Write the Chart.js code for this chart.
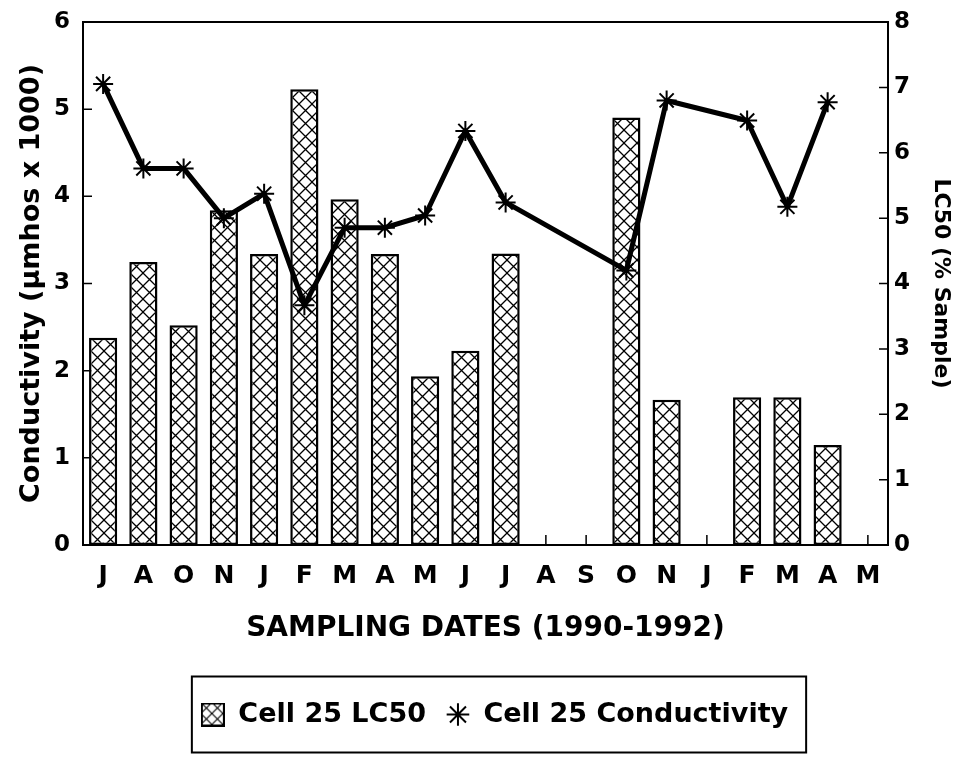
<!DOCTYPE html>
<html>
<head>
<meta charset="utf-8">
<script src="https://cdn.jsdelivr.net/npm/chart.js@4.4.0/dist/chart.umd.min.js"></script>
<style>
  body { margin: 0; background: #fff; }
</style>
</head>
<body>
<canvas id="grafico" width="957" height="759"></canvas>
<script>
const meses = ['J', 'A', 'O', 'N', 'J', 'F', 'M', 'A', 'M', 'J', 'J', 'A', 'S', 'O', 'N', 'J', 'F', 'M', 'A', 'M'];
const lc50 = [3.17, 4.33, 3.36, 5.12, 4.45, 6.97, 5.29, 4.45, 2.58, 2.97, 4.46, null, null, 6.54, 2.22, null, 2.26, 2.26, 1.53, null];
const condutividade = [5.29, 4.32, 4.32, 3.75, 4.03, 2.75, 3.64, 3.64, 3.78, 4.75, 3.93, null, null, 3.15, 5.1, null, 4.87, 3.88, 5.08, null];

const fonte = '"DejaVu Sans", "Liberation Sans", sans-serif';
Chart.defaults.font.family = fonte;
Chart.defaults.font.weight = 'bold';
Chart.defaults.color = '#000';

function criaHachura(tam, espessura) {
    const tile = document.createElement('canvas');
    tile.width = tam;
    tile.height = tam;
    const c = tile.getContext('2d');
    c.fillStyle = '#fff';
    c.fillRect(0, 0, tam, tam);
    c.strokeStyle = '#000';
    c.lineWidth = espessura;
    c.beginPath();
    c.moveTo(-1, -1); c.lineTo(tam + 1, tam + 1);
    c.moveTo(tam + 1, -1); c.lineTo(-1, tam + 1);
    c.stroke();
    return tile;
}

const padrao = document.createElement('canvas').getContext('2d').createPattern(criaHachura(13, 1.3), 'repeat');

function iconeBarra() {
    const c = document.createElement('canvas');
    c.width = 24;
    c.height = 24;
    const ctx = c.getContext('2d');
    ctx.fillStyle = ctx.createPattern(criaHachura(11, 1.1), 'repeat');
    ctx.fillRect(1, 1, 22, 22);
    ctx.strokeStyle = '#000';
    ctx.lineWidth = 2;
    ctx.strokeRect(1, 1, 22, 22);
    return c;
}
const icone = iconeBarra();

// moldura do grafico, marcas internas dos eixos e caixa da legenda
const moldura = {
    id: 'moldura',
    afterLayout(chart) {
        chart.legend.left += 16;
        chart.legend.right += 16;
    },
    beforeDatasetsDraw(chart) {
        const {ctx, chartArea: a, scales} = chart;
        ctx.save();
        ctx.strokeStyle = '#000';
        ctx.lineWidth = 1.5;
        ctx.beginPath();
        scales.y.ticks.forEach(t => {
            const y = scales.y.getPixelForValue(t.value);
            ctx.moveTo(a.left, y);
            ctx.lineTo(a.left + 9, y);
        });
        scales.y1.ticks.forEach(t => {
            const y = scales.y1.getPixelForValue(t.value);
            ctx.moveTo(a.right, y);
            ctx.lineTo(a.right - 9, y);
        });
        meses.forEach((m, i) => {
            const x = scales.x.getPixelForValue(i);
            ctx.moveTo(x, a.bottom);
            ctx.lineTo(x, a.bottom - 10);
        });
        ctx.stroke();
        ctx.lineWidth = 2;
        ctx.strokeRect(a.left, a.top, a.right - a.left, a.bottom - a.top);
        ctx.restore();
    },
    afterDraw(chart) {
        const lg = chart.legend;
        const op = lg.options.labels;
        const tamFonte = op.font.size;
        const ctx = chart.ctx;
        ctx.save();
        ctx.font = 'bold ' + tamFonte + 'px ' + fonte;
        const larguras = lg.legendItems.map(it => op.boxWidth + tamFonte / 2 + ctx.measureText(it.text).width);
        const total = larguras.reduce((s, w) => s + w + op.padding, 0);
        const x0 = (lg.left + op.padding + lg.right - total) / 2;
        const x1 = x0 + total - op.padding;
        const yc = lg.top + op.padding + tamFonte / 2;
        ctx.strokeStyle = '#000';
        ctx.lineWidth = 2;
        ctx.strokeRect(x0 - 9, yc - 38, x1 - x0 + 27, 76);
        ctx.restore();
    }
};

function larguraFixa(largura) {
    return function (s) {
        s.width = largura;
        s.paddingTop = 8;
        s.paddingBottom = 8;
    };
}

const grafico = new Chart(document.getElementById('grafico'), {
    data: {
        labels: meses,
        datasets: [{
            type: 'bar',
            label: 'Cell 25 LC50',
            data: lc50,
            yAxisID: 'y1',
            backgroundColor: padrao,
            borderColor: '#000',
            borderWidth: 2.5,
            borderSkipped: false,
            barPercentage: 0.7,
            categoryPercentage: 1,
            order: 2
        }, {
            type: 'line',
            label: 'Cell 25 Conductivity',
            data: condutividade,
            yAxisID: 'y',
            borderColor: '#000',
            borderWidth: 5,
            borderJoinStyle: 'round',
            spanGaps: true,
            pointStyle: 'star',
            pointRadius: 10,
            pointBorderWidth: 2,
            pointBorderColor: '#000',
            pointBackgroundColor: '#000',
            order: 1
        }]
    },
    options: {
        responsive: false,
        animation: false,
        layout: { padding: { top: 22, left: 0, right: 0, bottom: 21 } },
        plugins: {
            tooltip: { enabled: false },
            legend: {
                position: 'bottom',
                labels: {
                    usePointStyle: true,
                    boxWidth: 24,
                    boxHeight: 16,
                    padding: 20,
                    font: { size: 27, weight: 'bold' },
                    color: '#000',
                    generateLabels(chart) {
                        const itens = Chart.defaults.plugins.legend.labels.generateLabels(chart);
                        itens.sort((a, b) => a.datasetIndex - b.datasetIndex);
                        itens.forEach(it => {
                            if (it.datasetIndex === 0) {
                                it.pointStyle = icone;
                            } else {
                                it.pointStyle = 'star';
                                it.lineWidth = 2;
                                it.strokeStyle = '#000';
                            }
                        });
                        return itens;
                    }
                }
            }
        },
        scales: {
            x: {
                grid: { display: false, drawTicks: false },
                border: { display: false },
                ticks: { font: { size: 25, weight: 'bold' }, padding: 16, maxRotation: 0, autoSkip: false },
                title: { display: true, text: 'SAMPLING DATES (1990-1992)', font: { size: 28, weight: 'bold' }, padding: { top: 0, bottom: 35 } },
                afterFit(s) { s.height = 136; }
            },
            y: {
                position: 'left',
                min: 0,
                max: 6,
                grid: { display: false, drawTicks: false },
                border: { display: false },
                ticks: { stepSize: 1, padding: 13, font: { size: 23, weight: 'bold' } },
                title: { display: true, text: 'Conductivity (µmhos x 1000)', font: { size: 27, weight: 'bold' }, padding: { top: 16, bottom: 0 } },
                afterFit: larguraFixa(83)
            },
            y1: {
                position: 'right',
                min: 0,
                max: 8,
                grid: { display: false, drawTicks: false },
                border: { display: false },
                ticks: { stepSize: 1, padding: 6, font: { size: 23, weight: 'bold' } },
                title: { display: true, text: 'LC50 (% Sample)', font: { size: 22, weight: 'bold' }, padding: { top: 3, bottom: 0 } },
                afterFit: larguraFixa(69)
            }
        }
    },
    plugins: [moldura]
});
</script>
</body>
</html>
